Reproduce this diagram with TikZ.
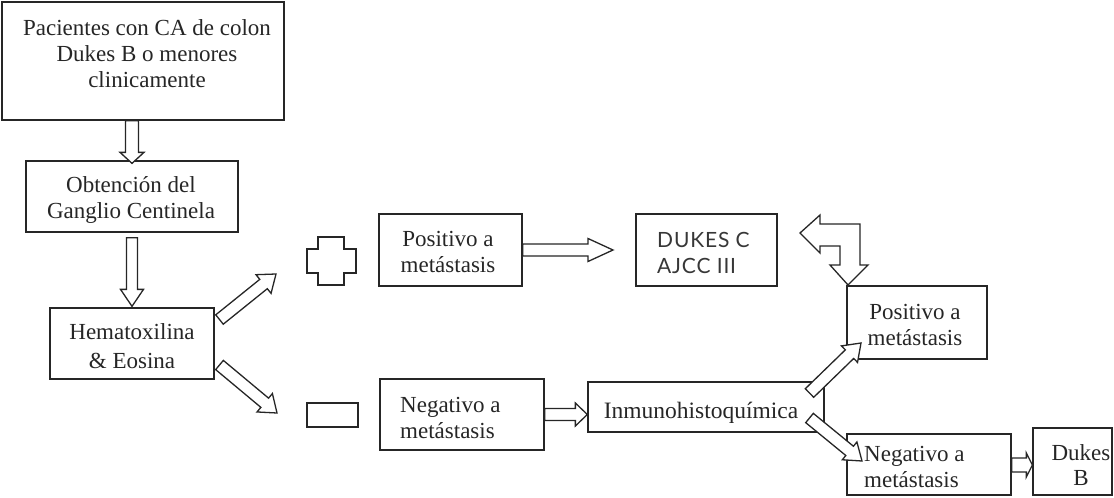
\documentclass[tikz,border=0pt]{standalone}
\usepackage{fontspec}
\setmainfont{Liberation Serif}
\newfontfamily\capsfont{Lato}[LetterSpace=4]
\usetikzlibrary{calc}
\definecolor{ink}{HTML}{262626}
\tikzset{
  box/.style={draw=ink, line width=1.3pt, inner sep=0pt},
  lbl/.style={text=ink, font=\fontsize{23}{26}\selectfont, align=center, inner sep=0pt, anchor=base},
  blk/.style={draw=ink, line width=1.3pt, fill=white, line join=miter},
}
% hollow block arrow: from, to, shaft half width, head half width, head length (in pt)
\newcommand{\blockarrow}[5]{%
  \path ($(#2)!#5pt!(#1)$) coordinate (hb);
  \draw[blk] ($(#1)!#3pt!90:(#2)$) -- ($(hb)!#3pt!-90:(#1)$) -- ($(hb)!#4pt!-90:(#1)$)
    -- (#2) -- ($(hb)!#4pt!90:(#1)$) -- ($(hb)!#3pt!90:(#1)$) -- ($(#1)!#3pt!-90:(#2)$) -- cycle;
}
\begin{document}
\begin{tikzpicture}[x=1pt,y=-1pt]
\useasboundingbox (0,0) rectangle (1114,498);

% boxes
\node[box, minimum width=282, minimum height=118] (b1) at (143,61) {};
\node[box, minimum width=212, minimum height=71] (b2) at (132,196.5) {};
\node[box, minimum width=164, minimum height=71] (b3) at (132,343.5) {};
\node[box, minimum width=143, minimum height=72] (p1) at (450.5,250) {};
\node[box, minimum width=141, minimum height=72] (dc) at (706.5,250) {};
\node[box, minimum width=140, minimum height=73] (p2) at (917,322.5) {};
\node[box, minimum width=164, minimum height=71] (n1) at (462,414.5) {};
\node[box, minimum width=236, minimum height=50] (im) at (706,407) {};
\node[box, minimum width=164, minimum height=61] (n2) at (929,464.5) {};
\node[box, minimum width=79, minimum height=67] (db) at (1072.5,461.5) {};

% plus and minus signs
\node[box, minimum width=51, minimum height=24] (neg) at (332.5,415) {};
\draw[box] (318,237) -- (344,237) -- (344,249) -- (356,249) -- (356,273) -- (344,273)
  -- (344,285) -- (318,285) -- (318,273) -- (307,273) -- (307,249) -- (318,249) -- cycle;

% labels (placed by the baseline of their last line)
\node[lbl] (t1) at (147,87) {Pacientes con CA de colon\\Dukes B o menores\\clinicamente};
\node[lbl] (t2) at (131,218) {Obtención del\\Ganglio Centinela};
\node[lbl, font=\fontsize{23}{29}\selectfont] (t3) at (132,368) {Hematoxilina\\\& Eosina};
\node[lbl] (t4) at (448,272) {Positivo a\\metástasis};
\node[lbl, align=left, anchor=base west, text=ink!92, font=\capsfont\fontsize{21}{26}\selectfont] (t5) at (657,273) {DUKES C\\AJCC III};
\node[lbl] (t6) at (915,345) {Positivo a\\metástasis};
\node[lbl, align=left, anchor=base west] (t7) at (400,438) {Negativo a\\metástasis};
\node[lbl, font=\fontsize{23.5}{26}\selectfont] (t8) at (701,418) {Inmunohistoquímica};
\node[lbl, align=left, anchor=base west] (t9) at (864,487) {Negativo a\\metástasis};
\node[lbl, font=\fontsize{23}{25}\selectfont] (t10) at (1081,485) {Dukes\\B};

% connector end points
\coordinate (a1s) at (b1.south -| b2.north);
\coordinate (a1e) at ($(b2.north)+(0,3)$);
\coordinate (a2s) at ($(b2.south)+(0,5)$);
\coordinate (a2e) at ($(b3.north)+(0,-1)$);
\coordinate (a3s) at (219.5,319.5);
\coordinate (a3e) at (276,274);
\coordinate (a4s) at (219.5,365);
\coordinate (a4e) at (277,413);
\coordinate (a5s) at (p1.east);
\coordinate (a5e) at (613,250);
\coordinate (a6s) at (n1.east);
\coordinate (a6e) at (im.west |- n1.east);
\coordinate (a7s) at (809.5,393);
\coordinate (a7e) at (861,343);
\coordinate (a8s) at (809.5,418);
\coordinate (a8e) at (862,461);
\coordinate (a9s) at (n2.east |- 0,465);
\coordinate (a9e) at (db.west |- 0,465);

% block arrows
\blockarrow{a1s}{a1e}{6.5}{12}{11}
\blockarrow{a2s}{a2e}{5.5}{11.5}{17}
\blockarrow{a3s}{a3e}{6}{12}{16}
\blockarrow{a4s}{a4e}{6}{12}{16}
\blockarrow{a5s}{a5e}{6}{11.5}{25}
\blockarrow{a6s}{a6e}{6}{11.5}{12}
\blockarrow{a7s}{a7e}{6}{11.5}{16}
\blockarrow{a8s}{a8e}{6}{11.5}{16}
\blockarrow{a9s}{a9e}{7}{12}{6}

% two-headed bent arrow between the positive result and the stage box
\coordinate (btl) at (800,233);
\coordinate (btd) at (848,285);
\draw[blk] (btl) -- (820,215) -- (820,224) -- (860,224) -- (860,265) -- (868,265)
  -- (btd) -- (830,265) -- (840,265) -- (840,246) -- (820,246) -- (820,253) -- cycle;
\end{tikzpicture}
\end{document}
